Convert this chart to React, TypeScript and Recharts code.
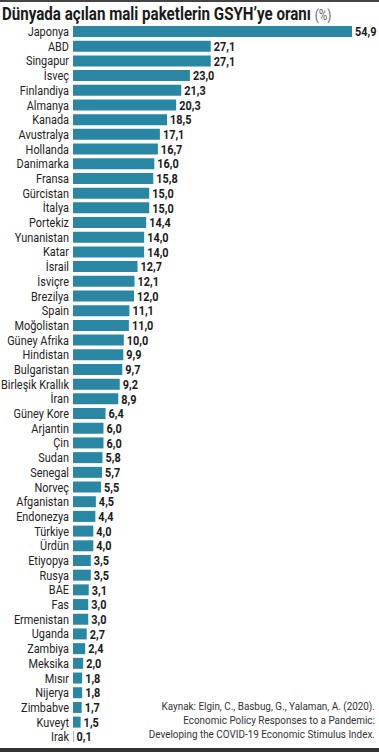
import { BarChart, Bar, XAxis, YAxis, LabelList } from "recharts";

const countries = [
  "Japonya", "ABD", "Singapur", "İsveç", "Finlandiya", "Almanya", "Kanada",
  "Avustralya", "Hollanda", "Danimarka", "Fransa", "Gürcistan", "İtalya",
  "Portekiz", "Yunanistan", "Katar", "İsrail", "İsviçre", "Brezilya", "Spain",
  "Moğolistan", "Güney Afrika", "Hindistan", "Bulgaristan", "Birleşik Krallık",
  "İran", "Güney Kore", "Arjantin", "Çin", "Sudan", "Senegal", "Norveç",
  "Afganistan", "Endonezya", "Türkiye", "Ürdün", "Etiyopya", "Rusya", "BAE",
  "Fas", "Ermenistan", "Uganda", "Zambiya", "Meksika", "Mısır", "Nijerya",
  "Zimbabve", "Kuveyt", "Irak",
];

const shares = [
  54.9, 27.1, 27.1, 23.0, 21.3, 20.3, 18.5, 17.1, 16.7, 16.0, 15.8, 15.0, 15.0,
  14.4, 14.0, 14.0, 12.7, 12.1, 12.0, 11.1, 11.0, 10.0, 9.9, 9.7, 9.2, 8.9, 6.4,
  6.0, 6.0, 5.8, 5.7, 5.5, 4.5, 4.4, 4.0, 4.0, 3.5, 3.5, 3.1, 3.0, 3.0, 2.7, 2.4,
  2.0, 1.8, 1.8, 1.7, 1.5, 0.1,
];

const sourceLines = [
  "Kaynak: Elgin, C., Basbug, G., Yalaman, A. (2020).",
  "Economic Policy Responses to a Pandemic:",
  "Developing the COVID-19 Economic Stimulus Index.",
];

const data = countries.map((name, i) => ({ name, value: shares[i] }));

const FONT = "Roboto, 'Noto Sans', sans-serif";
const BAR = "#2a87a4";
const SQUEEZE = 0.84;

// condensed-looking country names, drawn without wrapping
function CountryTick(props: any) {
  const { x, y, payload } = props;
  return (
    <g transform={`translate(${x},${y})`}>
      <text
        transform={`scale(${SQUEEZE},1)`}
        textAnchor="end"
        dy="0.36em"
        fontSize={13}
        fill="#222"
        fontFamily={FONT}
      >
        {payload.value}
      </text>
    </g>
  );
}

function ValueLabel(props: any) {
  const { x, y, width, height, value } = props;
  const tx = Number(x) + Number(width) + 3;
  const ty = Number(y) + Number(height) / 2;
  return (
    <g transform={`translate(${tx},${ty})`}>
      <text
        transform={`scale(${SQUEEZE},1)`}
        dy="0.36em"
        fontSize={13}
        fontWeight={700}
        fill="#1a1a1a"
        fontFamily={FONT}
      >
        {Number(value).toFixed(1).replace(".", ",")}
      </text>
    </g>
  );
}

export default function App() {
  return (
    <div
      style={{
        position: "absolute",
        left: 0,
        top: 0,
        width: 379,
        height: 752,
        background: "#fff",
        fontFamily: FONT,
        overflow: "hidden",
      }}
    >
      <div style={{ position: "absolute", left: 0, top: 0, width: 379, height: 2, background: "#444" }} />
      <div
        style={{
          position: "absolute",
          left: 2,
          top: 3,
          fontSize: 18,
          fontWeight: 700,
          color: "#1a1a1a",
          whiteSpace: "nowrap",
          transform: `scaleX(${SQUEEZE})`,
          transformOrigin: "left top",
        }}
      >
        Dünyada açılan mali paketlerin GSYH’ye oranı{" "}
        <span style={{ fontWeight: 400, fontSize: 14, color: "#666" }}>(%)</span>
      </div>
      <BarChart
        width={379}
        height={752}
        data={data}
        layout="vertical"
        margin={{ top: 24, right: 27, bottom: 8, left: 0 }}
        barSize={11}
      >
        <XAxis type="number" domain={[0, 54.9]} hide />
        <YAxis
          type="category"
          dataKey="name"
          width={73}
          tickLine={false}
          axisLine={false}
          tickSize={0}
          tickMargin={4}
          interval={0}
          tick={<CountryTick />}
        />
        <Bar dataKey="value" fill={BAR} isAnimationActive={false}>
          <LabelList dataKey="value" content={<ValueLabel />} />
        </Bar>
      </BarChart>
      <div
        style={{
          position: "absolute",
          right: 4,
          top: 699,
          textAlign: "right",
          fontSize: 11.5,
          lineHeight: "14px",
          color: "#333",
          whiteSpace: "nowrap",
          transform: "scaleX(0.86)",
          transformOrigin: "right top",
        }}
      >
        {sourceLines.map((l) => (
          <div key={l}>{l}</div>
        ))}
      </div>
      <div style={{ position: "absolute", left: 0, top: 748, width: 379, height: 4, background: "#333" }} />
    </div>
  );
}
